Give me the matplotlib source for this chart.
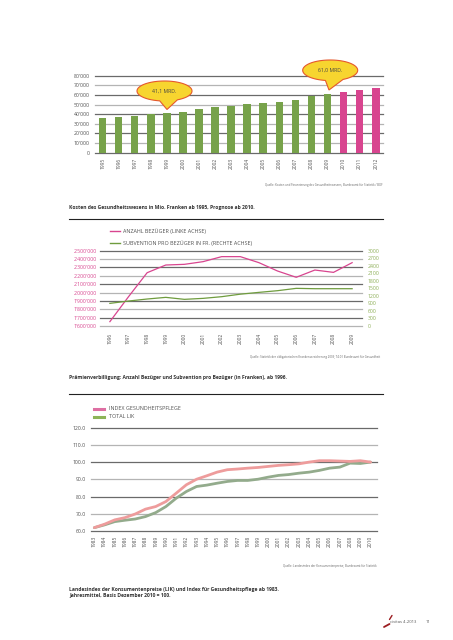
import numpy as np
import matplotlib
matplotlib.use("Agg")
import matplotlib.pyplot as plt
from matplotlib.patches import Polygon

plt.rcParams['font.family'] = ['Open Sans', 'DejaVu Sans']

# chart 1: health care costs (Mio. CHF), forecast from 2010
years1 = [str(y) for y in range(1995, 2013)]
costs = [35900, 37500, 38300, 39900, 41100, 42800, 45300, 47300, 48700,
         50800, 51800, 52800, 55000, 58700, 61000, 62800, 64800, 66900]
first_forecast = '2010'

# chart 2: premium reductions
years2 = [str(y) for y in range(1996, 2010)]
recipients = [1652000, 1950000, 2237000, 2329000, 2337000, 2369000, 2429000,
              2429000, 2357000, 2257000, 2182000, 2269000, 2241000, 2357000]
subsidy = [902, 995, 1075, 1141, 1062, 1101, 1168, 1268, 1340, 1407,
           1500, 1486, 1486, 1486]

# chart 3: price indices
years3 = [str(y) for y in range(1983, 2011)]
health_idx = [62.1, 64.1, 66.6, 67.9, 70.0, 72.8, 74.3, 77.2, 82.0, 86.9,
              90.1, 92.1, 94.2, 95.6, 96.0, 96.5, 96.9, 97.5, 98.1, 98.5,
              99.0, 100.0, 100.8, 100.8, 100.6, 100.4, 100.8, 100.0]
lik = [62.1, 63.7, 65.6, 66.4, 67.1, 68.5, 70.8, 74.3, 79.1, 83.0,
       85.9, 86.7, 87.8, 88.8, 89.4, 89.4, 90.1, 91.3, 92.3, 92.8,
       93.6, 94.2, 95.2, 96.5, 97.1, 99.4, 99.2, 100.0]

W, H = 453, 640
GREEN = '#77a24a'
PINK = '#d8458f'
TXT = '#505050'
DARK_GRID = '#6a6a6a'
LIGHT_GRID = '#b4b4b4'


def box(l, t, r, b):
    return [l / W, 1 - b / H, (r - l) / W, (b - t) / H]


def grid(ax, values):
    for i, v in enumerate(values):
        ax.axhline(v, color=DARK_GRID if i % 2 == 0 else LIGHT_GRID,
                   lw=0.9, zorder=0, clip_on=False)


def clean(ax):
    for s in ax.spines.values():
        s.set_visible(False)
    ax.tick_params(length=0)


fig = plt.figure(figsize=(W / 100, H / 100), dpi=100)

# ---- chart 1
ax1 = fig.add_axes(box(95, 75.7, 383, 152.7))
x1 = np.arange(len(years1))
colors = [PINK if y >= first_forecast else GREEN for y in years1]
ax1.bar(x1, costs, width=0.47, color=colors, zorder=2)
ax1.set_xlim(-0.47, len(years1) - 1 + 0.45)
ax1.set_ylim(0, 80000)
ticks1 = list(range(80000, -1, -10000))
grid(ax1, ticks1)
ax1.set_yticks(ticks1)
ax1.set_yticklabels([f"{t // 1000}'000" if t else '0' for t in ticks1])
ax1.set_xticks(x1)
ax1.set_xticklabels(years1, rotation=90)
clean(ax1)
ax1.tick_params(axis='y', pad=3.6, labelsize=3.7, labelcolor=TXT)
ax1.tick_params(axis='x', pad=3.4, labelsize=3.5, labelcolor=TXT)

# ---- chart 2
ax2 = fig.add_axes(box(100, 250.7, 362, 326))
x2 = np.arange(len(years2))
ax2.plot(x2, recipients, color=PINK, lw=0.9, zorder=3)
ax2.set_xlim(-0.53, len(years2) - 1 + 0.53)
ax2.set_ylim(1600000, 2500000)
ticks2 = list(range(2500000, 1599999, -100000))
grid(ax2, ticks2)
ax2.set_yticks(ticks2)
ax2.set_yticklabels([f"{t // 1000000}'{(t // 1000) % 1000:03d}'000" for t in ticks2])
ax2.set_xticks(x2)
ax2.set_xticklabels(years2, rotation=90)
clean(ax2)
ax2.tick_params(axis='y', pad=2.4, labelsize=3.7, labelcolor=PINK)
ax2.tick_params(axis='x', pad=5, labelsize=3.5, labelcolor=TXT)
ax2r = ax2.twinx()
ax2r.plot(x2, subsidy, color='#6f9c3e', lw=0.9, zorder=3)
ax2r.set_ylim(0, 3000)
ax2r.set_yticks(range(0, 3001, 300))
clean(ax2r)
ax2r.tick_params(axis='y', pad=4.3, labelsize=3.7, labelcolor='#8cae55')

# ---- chart 3
ax3 = fig.add_axes(box(90.7, 427.5, 376.7, 531.3))
x3 = np.arange(len(years3))
ax3.plot(x3, lik, color='#93ab8c', lw=2.0, zorder=3, solid_capstyle='round')
ax3.plot(x3, health_idx, color='#ee9c9c', lw=2.0, zorder=4, solid_capstyle='round')
ax3.set_xlim(-0.35, len(years3) - 1 + 0.6)
ax3.set_ylim(60, 120)
ticks3 = [120, 110, 100, 90, 80, 70, 60]
grid(ax3, ticks3)
ax3.set_yticks(ticks3)
ax3.set_yticklabels([f'{t:.1f}' for t in ticks3])
ax3.set_xticks(x3)
ax3.set_xticklabels(years3, rotation=90)
clean(ax3)
ax3.tick_params(axis='y', pad=3.4, labelsize=3.7, labelcolor=TXT)
ax3.tick_params(axis='x', pad=3, labelsize=3.5, labelcolor=TXT)

# ---- page layer: callouts, legends, captions, sources
pg = fig.add_axes([0, 0, 1, 1])
pg.set_xlim(0, W)
pg.set_ylim(H, 0)
pg.axis('off')
pg.set_zorder(10)
pg.patch.set_visible(False)


def bubble(cx, cy, a, b, t1, t2, tip, text):
    th = np.radians(np.linspace(t2, t1 + 360, 90))
    pts = np.column_stack([cx + a * np.cos(th), cy + b * np.sin(th)])
    pts = np.vstack([pts, tip])
    pg.add_patch(Polygon(pts, closed=True, fc='#f7d52f', ec='#e5582c', lw=0.8))
    pg.text(cx, cy, text, ha='center', va='center', fontsize=3.7, color='#444')


bubble(164.5, 91, 27.5, 10, 62, 100, (167, 109.5), '41,1 MRD.')
bubble(330.2, 70.3, 27.5, 10.3, 62, 100, (329, 90), '61,0 MRD.')

small = dict(fontsize=2.1, color='#666', ha='right', va='center')
cap = dict(fontsize=3.6, color='#333', fontweight='bold', ha='left', va='center')

pg.text(383, 185, 'Quelle: Kosten und Finanzierung des Gesundheitswesens, '
        'Bundesamt für Statistik / BOF', **small)
pg.text(69, 207, 'Kosten des Gesundheitswesens in Mio. Franken ab 1995, '
        'Prognose ab 2010.', **cap)
pg.plot([69, 383], [219, 219], color='#222', lw=0.8)

pg.plot([110, 120], [231, 231], color=PINK, lw=1.0)
pg.text(123, 231, 'ANZAHL BEZÜGER (LINKE ACHSE)', fontsize=3.9, color=TXT, va='center')
pg.plot([110, 120], [243, 243], color='#6f9c3e', lw=1.0)
pg.text(123, 243, 'SUBVENTION PRO BEZÜGER IN FR. (RECHTE ACHSE)', fontsize=3.9,
        color=TXT, va='center')
pg.text(380, 356.7, 'Quelle: Statistik der obligatorischen Krankenversicherung '
        '2009, T4.01 Bundesamt für Gesundheit', **small)
pg.text(69, 377, 'Prämienverbilligung: Anzahl Bezüger und Subvention pro Bezüger '
        '(in Franken), ab 1996.', **cap)
pg.plot([69, 383], [394, 394], color='#222', lw=0.8)

pg.plot([94, 104], [409, 409], color='#de6fa3', lw=2.2)
pg.text(109, 409, 'INDEX GESUNDHEITSPFLEGE', fontsize=3.9, color=TXT, va='center')
pg.plot([94, 104], [416.7, 416.7], color='#8db458', lw=2.2)
pg.text(109, 416.7, 'TOTAL LIK', fontsize=3.9, color=TXT, va='center')
pg.text(376.7, 566, 'Quelle: Landesindex der Konsumentenpreise, '
        'Bundesamt für Statistik', **small)
pg.text(69, 589, 'Landesindex der Konsumentenpreise (LIK) und Index für '
        'Gesundheitspflege ab 1983.', **cap)
pg.text(69, 594.5, 'Jahresmittel, Basis Dezember 2010 = 100.', **cap)

# footer
pg.plot([384, 389.5], [627, 624], color='#9b1c20', lw=1.3, solid_capstyle='round')
pg.plot([389.5, 392], [619.5, 615.5], color='#9b1c20', lw=1.0, solid_capstyle='round')
pg.text(390, 621.7, 'civitas 4-2013', fontsize=3.0, color='#555', va='center')
pg.text(426, 621.7, '11', fontsize=3.0, color='#555', va='center')

fig.savefig('out.png', dpi=100, facecolor='white')
